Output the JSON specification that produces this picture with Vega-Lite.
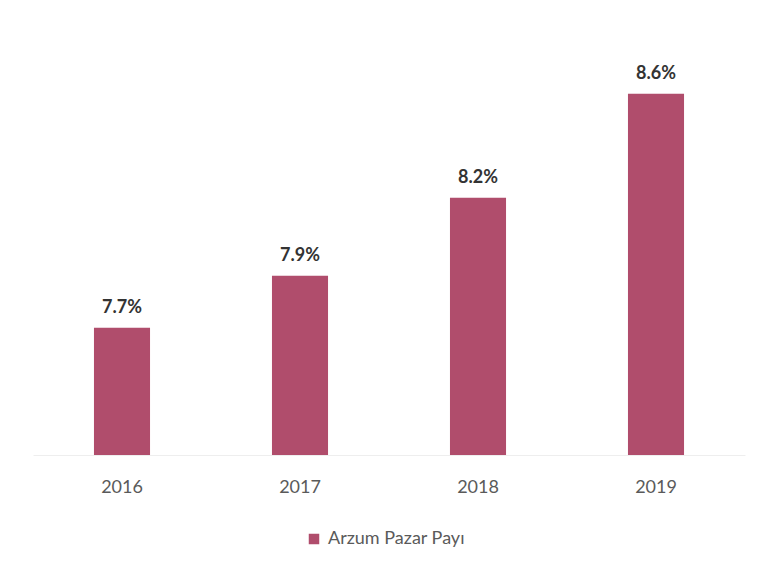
{
  "$schema": "https://vega.github.io/schema/vega-lite/v6.json",
  "width": 712,
  "height": 395,
  "autosize": "none",
  "padding": {"left": 33, "top": 60, "right": 18, "bottom": 108},
  "background": "white",
  "data": {"values": [
    {"year": "2016", "share": 0.077, "series": "Arzum Pazar Payı"},
    {"year": "2017", "share": 0.079, "series": "Arzum Pazar Payı"},
    {"year": "2018", "share": 0.082, "series": "Arzum Pazar Payı"},
    {"year": "2019", "share": 0.086, "series": "Arzum Pazar Payı"}
  ]},
  "encoding": {
    "x": {"field": "year", "type": "nominal", "title": null,
      "scale": {"paddingInner": 0.685, "paddingOuter": 0.3425},
      "axis": {"labelAngle": 0, "labelFont": "Lato", "labelFontSize": 18, "labelColor": "#5a5a5a", "labelPadding": 23, "ticks": false, "domainColor": "#eeeeee", "domainWidth": 1}},
    "y": {"field": "share", "type": "quantitative", "scale": {"domain": [0.0721, 0.0873], "zero": false, "nice": false}, "axis": null}
  },
  "layer": [
    {"mark": {"type": "bar", "clip": true},
     "encoding": {"color": {"field": "series", "type": "nominal", "title": null,
       "scale": {"range": ["#b04d6c"]},
       "legend": {"orient": "none", "legendX": 272, "legendY": 470, "symbolType": "square", "symbolSize": 110, "labelFont": "Lato", "labelFontSize": 18, "labelColor": "#5a5a5a", "symbolStrokeWidth": 0, "labelOffset": 5}}}},
    {"mark": {"type": "text", "baseline": "bottom", "dy": -11, "font": "Lato", "fontSize": 18, "fontWeight": "bold", "color": "#333333"},
     "encoding": {"text": {"field": "share", "type": "quantitative", "format": ".1%"}}}
  ],
  "config": {"view": {"stroke": null}}
}
